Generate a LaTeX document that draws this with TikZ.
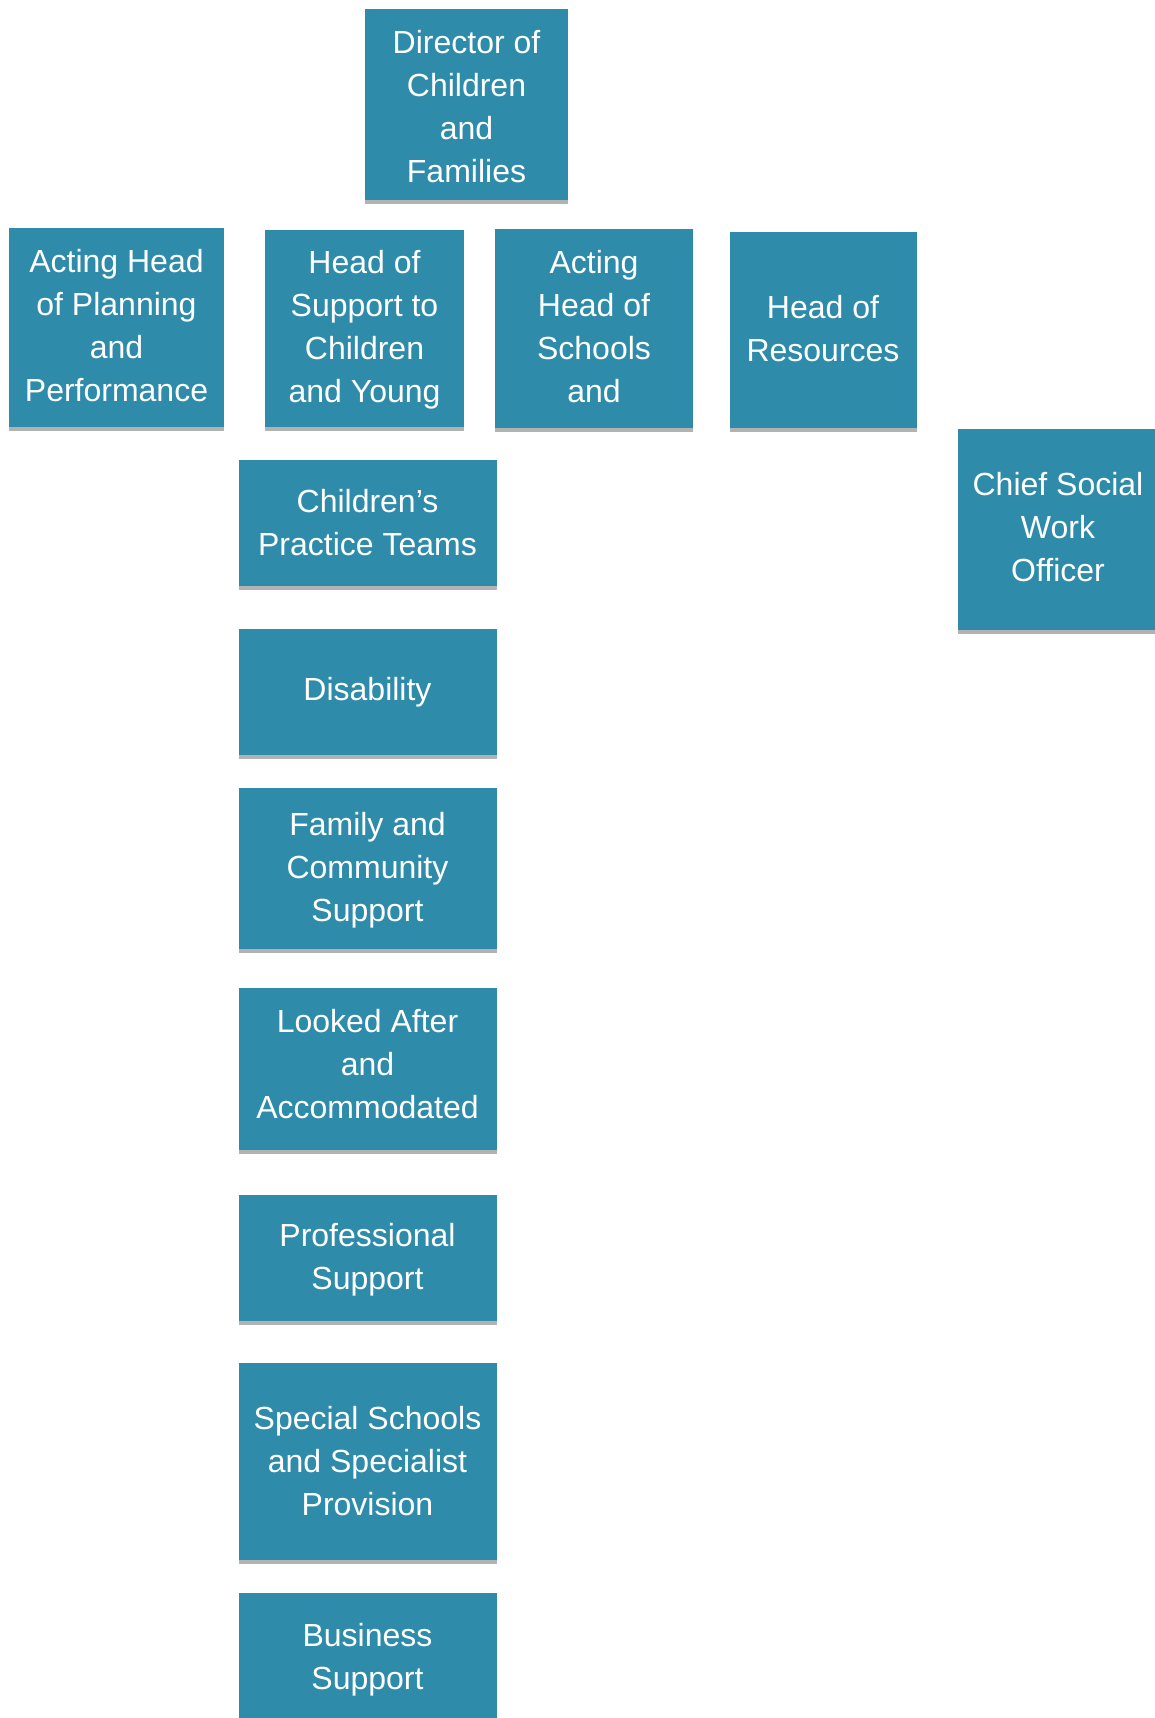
\documentclass[tikz,border=0pt]{standalone}
\usepackage{fontspec}
\setmainfont{Liberation Sans}
\usetikzlibrary{shadows}
\definecolor{tealbox}{RGB}{46,139,170}
\tikzset{
  boxst/.style={rectangle, fill=tealbox, draw=none, inner sep=0pt,
    drop shadow={shadow xshift=0pt, shadow yshift=-4pt, opacity=0.4, fill=black!75}},
  txt/.style={text=white, align=center, inner sep=0pt,
    font=\fontsize{32}{43}\selectfont}
}
\begin{document}
\begin{tikzpicture}[x=1pt,y=-1pt]
\useasboundingbox[fill=white] (0,0) rectangle (1155,1718);
% boxes
\node[boxst, minimum width=203pt, minimum height=191pt] (dir) at (466.5,104.5) {};
\node[boxst, minimum width=215pt, minimum height=199pt] (plan) at (116.5,327) {};
\node[boxst, minimum width=199pt, minimum height=197pt] (supp) at (364.5,328.5) {};
\node[boxst, minimum width=198pt, minimum height=199pt] (sch) at (594,328.5) {};
\node[boxst, minimum width=187pt, minimum height=196pt] (res) at (823.5,330) {};
\node[boxst, minimum width=198pt, minimum height=201pt] (csw) at (1057,529.5) {};
\node[boxst, minimum width=258pt, minimum height=126pt] (cpt) at (367.5,523) {};
\node[boxst, minimum width=258pt, minimum height=126pt] (dis) at (367.5,692) {};
\node[boxst, minimum width=258pt, minimum height=161pt] (fam) at (367.5,868.5) {};
\node[boxst, minimum width=258pt, minimum height=162pt] (laa) at (367.5,1069) {};
\node[boxst, minimum width=258pt, minimum height=126pt] (pro) at (367.5,1257.5) {};
\node[boxst, minimum width=258pt, minimum height=197pt] (spe) at (367.5,1461.5) {};
\node[boxst, minimum width=258pt, minimum height=135pt] (bus) at (367.5,1660.5) {};
% texts
\node[txt] (dirt) at (466.5,106.5) {Director of\\Children\\and\\Families};
\node[txt] (plant) at (116.5,325.5) {Acting Head\\of Planning\\and\\Performance};
\node[txt] (suppt) at (364.5,330) {Head of\\Support to\\Children\\and Young};
\node[txt] (scht) at (594,326.5) {Acting\\Head of\\Schools\\and};
\node[txt] (rest) at (823,328.5) {Head of\\Resources};
\node[txt] (cswt) at (1058,527.5) {Chief Social\\Work\\Officer};
\node[txt] (cptt) at (367.5,522.5) {Children’s\\Practice Teams};
\node[txt] (dist) at (367.5,692.5) {Disability};
\node[txt] (famt) at (367.5,870.5) {Family and\\Community\\Support};
\node[txt] (laat) at (367.5,1064.5) {Looked After\\and\\Accommodated};
\node[txt] (prot) at (367.5,1259.5) {Professional\\Support};
\node[txt] (spet) at (367.5,1461.5) {Special Schools\\and Specialist\\Provision};
\node[txt] (bust) at (367.5,1659.5) {Business\\Support};
\end{tikzpicture}
\end{document}
